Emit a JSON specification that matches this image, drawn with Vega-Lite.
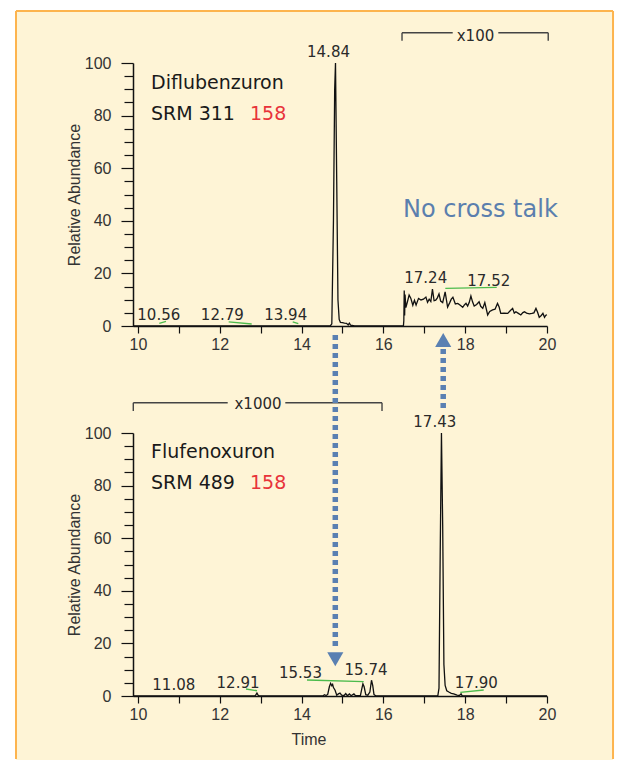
{
  "$schema": "https://vega.github.io/schema/vega-lite/v6.json",
  "background": "white",
  "padding": {"left": 14, "top": 10, "right": 0, "bottom": 0},
  "bounds": "flush",
  "spacing": 107,
  "config": {
    "view": {"stroke": null},
    "axis": {
      "grid": false,
      "domainColor": "#111111",
      "domainWidth": 1.5,
      "tickColor": "#111111",
      "tickWidth": 1.2,
      "labelFont": "Liberation Sans",
      "labelFontSize": 16,
      "labelColor": "#333333",
      "titleFont": "Liberation Sans",
      "titleFontSize": 16,
      "titleFontWeight": "normal",
      "titleColor": "#333333",
      "labelOverlap": false,
      "labelFlush": false
    }
  },
  "datasets": {
    "top": [
      {"t": 9.88, "a": 0}, {"t": 14.70, "a": 0}, {"t": 14.74, "a": 0.8}, {"t": 14.78, "a": 40}, {"t": 14.81, "a": 90}, {"t": 14.83, "a": 100}, {"t": 14.86, "a": 55}, {"t": 14.89, "a": 10}, {"t": 14.92, "a": 2.5}, {"t": 14.95, "a": 1.4}, {"t": 15.00, "a": 1.3}, {"t": 15.05, "a": 1.1}, {"t": 15.10, "a": 1.0}, {"t": 15.14, "a": 0.4}, {"t": 15.17, "a": 1.1}, {"t": 15.20, "a": 0.3}, {"t": 15.30, "a": 0},
      {"t": 16.49, "a": 0}, {"t": 16.50, "a": 2}, {"t": 16.51, "a": 13.5}, {"t": 16.52, "a": 4}, {"t": 16.53, "a": 12}, {"t": 16.55, "a": 7}, {"t": 16.59, "a": 9.3}, {"t": 16.63, "a": 11.8}, {"t": 16.67, "a": 10.6}, {"t": 16.72, "a": 7.9}, {"t": 16.76, "a": 9.8}, {"t": 16.80, "a": 8}, {"t": 16.86, "a": 10.5}, {"t": 16.92, "a": 9.9}, {"t": 16.98, "a": 10.2}, {"t": 17.04, "a": 11}, {"t": 17.08, "a": 9}, {"t": 17.12, "a": 10.2}, {"t": 17.16, "a": 9.3}, {"t": 17.20, "a": 14}, {"t": 17.24, "a": 9.6}, {"t": 17.28, "a": 9.8}, {"t": 17.32, "a": 10.7}, {"t": 17.36, "a": 12.2}, {"t": 17.40, "a": 9.5}, {"t": 17.45, "a": 8.9}, {"t": 17.51, "a": 13}, {"t": 17.57, "a": 7.2}, {"t": 17.62, "a": 8.8}, {"t": 17.66, "a": 10.2}, {"t": 17.70, "a": 10.9}, {"t": 17.76, "a": 8.4}, {"t": 17.82, "a": 8.6}, {"t": 17.88, "a": 7.9}, {"t": 17.94, "a": 7.1}, {"t": 17.98, "a": 8.0}, {"t": 18.02, "a": 8.6}, {"t": 18.06, "a": 7.6}, {"t": 18.10, "a": 9.0}, {"t": 18.14, "a": 11.4}, {"t": 18.18, "a": 9.2}, {"t": 18.22, "a": 7.6}, {"t": 18.28, "a": 8.2}, {"t": 18.34, "a": 9.2}, {"t": 18.38, "a": 7.5}, {"t": 18.43, "a": 6.7}, {"t": 18.48, "a": 8.9}, {"t": 18.55, "a": 4.2}, {"t": 18.60, "a": 5.5}, {"t": 18.67, "a": 6.1}, {"t": 18.73, "a": 6.4}, {"t": 18.79, "a": 8.6}, {"t": 18.83, "a": 7.2}, {"t": 18.87, "a": 4.8}, {"t": 18.95, "a": 4.9}, {"t": 19.04, "a": 4.8}, {"t": 19.10, "a": 5.8}, {"t": 19.16, "a": 6.7}, {"t": 19.20, "a": 4.9}, {"t": 19.24, "a": 5.4}, {"t": 19.30, "a": 4.8}, {"t": 19.36, "a": 4.2}, {"t": 19.41, "a": 5.1}, {"t": 19.45, "a": 5.4}, {"t": 19.50, "a": 4.9}, {"t": 19.57, "a": 4.6}, {"t": 19.63, "a": 4.8}, {"t": 19.68, "a": 5.0}, {"t": 19.73, "a": 6.7}, {"t": 19.77, "a": 5.2}, {"t": 19.81, "a": 3.3}, {"t": 19.86, "a": 4.0}, {"t": 19.90, "a": 4.8}, {"t": 19.94, "a": 3.3}, {"t": 19.97, "a": 4.1}, {"t": 20.0, "a": 4.2}
    ],
    "bot": [
      {"t": 9.88, "a": 0}, {"t": 12.86, "a": 0}, {"t": 12.89, "a": 0.6}, {"t": 12.91, "a": 1.1}, {"t": 12.94, "a": 0.3}, {"t": 12.97, "a": 0},
      {"t": 14.52, "a": 0}, {"t": 14.56, "a": 0.5}, {"t": 14.60, "a": 0.2}, {"t": 14.64, "a": 0.6}, {"t": 14.68, "a": 3.5}, {"t": 14.71, "a": 4.8}, {"t": 14.74, "a": 3.9}, {"t": 14.76, "a": 4.4}, {"t": 14.78, "a": 3.2}, {"t": 14.82, "a": 2.2}, {"t": 14.86, "a": 0.3}, {"t": 14.90, "a": 0.8}, {"t": 14.94, "a": 1.1}, {"t": 14.98, "a": 0.3}, {"t": 15.04, "a": 0.2}, {"t": 15.08, "a": 0.9}, {"t": 15.12, "a": 0.1}, {"t": 15.17, "a": 0.8}, {"t": 15.21, "a": 0.1}, {"t": 15.28, "a": 0.8}, {"t": 15.32, "a": 0.1}, {"t": 15.44, "a": 0.2}, {"t": 15.47, "a": 2.5}, {"t": 15.50, "a": 4.6}, {"t": 15.53, "a": 3.5}, {"t": 15.57, "a": 0.5}, {"t": 15.62, "a": 0.3}, {"t": 15.67, "a": 1.5}, {"t": 15.71, "a": 6.0}, {"t": 15.74, "a": 4.0}, {"t": 15.77, "a": 0.6}, {"t": 15.82, "a": 0},
      {"t": 17.33, "a": 0}, {"t": 17.36, "a": 3}, {"t": 17.39, "a": 55}, {"t": 17.42, "a": 100}, {"t": 17.45, "a": 65}, {"t": 17.48, "a": 12}, {"t": 17.51, "a": 4}, {"t": 17.55, "a": 2}, {"t": 17.60, "a": 1.5}, {"t": 17.66, "a": 1.0}, {"t": 17.72, "a": 0.8}, {"t": 17.80, "a": 0.3}, {"t": 17.86, "a": 0.2}, {"t": 17.90, "a": 0.8}, {"t": 17.93, "a": 0}, {"t": 20.0, "a": 0}
    ],
    "greenTop": [
      {"t": 10.523, "a": 1.0, "t2": 10.687, "a2": 1.8},
      {"t": 12.219, "a": 1.6, "t2": 12.782, "a2": 0.76},
      {"t": 13.784, "a": 1.6, "t2": 13.921, "a2": 0.87},
      {"t": 17.514, "a": 14.3, "t2": 18.771, "a2": 14.7}
    ],
    "greenBot": [
      {"t": 12.642, "a": 2.66, "t2": 12.911, "a2": 2.0},
      {"t": 14.133, "a": 6.08, "t2": 15.519, "a2": 5.44},
      {"t": 17.881, "a": 1.41, "t2": 18.453, "a2": 2.28}
    ],
    "bracketTop": [
      {"t": 16.456, "a": 108.5, "t2": 16.456, "a2": 111.5},
      {"t": 16.456, "a": 111.5, "t2": 17.695, "a2": 111.5},
      {"t": 18.81, "a": 111.5, "t2": 20.03, "a2": 111.5},
      {"t": 20.03, "a": 111.5, "t2": 20.03, "a2": 108.5}
    ],
    "bracketBot": [
      {"t": 9.887, "a": 108.4, "t2": 9.887, "a2": 111.5},
      {"t": 9.887, "a": 111.5, "t2": 12.195, "a2": 111.5},
      {"t": 13.603, "a": 111.5, "t2": 15.967, "a2": 111.5},
      {"t": 15.967, "a": 111.5, "t2": 15.967, "a2": 108.4}
    ],
    "labTop": [
      {"t": 14.659, "a": 102.1, "label": "14.84"},
      {"t": 10.51, "a": 2.28, "label": "10.56"},
      {"t": 12.063, "a": 2.28, "label": "12.79"},
      {"t": 13.613, "a": 2.28, "label": "13.94"},
      {"t": 17.035, "a": 16.5, "label": "17.24"},
      {"t": 18.577, "a": 15.2, "label": "17.52"},
      {"t": 18.252, "a": 108.5, "label": "x100"}
    ],
    "labBot": [
      {"t": 17.257, "a": 102.2, "label": "17.43"},
      {"t": 10.877, "a": 2.3, "label": "11.08"},
      {"t": 12.447, "a": 2.9, "label": "12.91"},
      {"t": 13.974, "a": 6.7, "label": "15.53"},
      {"t": 15.576, "a": 8.0, "label": "15.74"},
      {"t": 18.272, "a": 2.9, "label": "17.90"},
      {"t": 12.936, "a": 109.0, "label": "x1000"}
    ],
    "nameTop": [
      {"t": 10.32, "a": 90.1, "label": "Diflubenzuron"},
      {"t": 10.32, "a": 78.3, "label": "SRM 311"}
    ],
    "nameBot": [
      {"t": 10.32, "a": 90.4, "label": "Flufenoxuron"},
      {"t": 10.32, "a": 78.7, "label": "SRM 489"}
    ],
    "mzTop": [{"t": 12.74, "a": 78.3, "label": "158"}],
    "mzBot": [{"t": 12.74, "a": 78.7, "label": "158"}],
    "note": [{"t": 16.48, "a": 41.3, "label": "No cross talk"}],
    "shafts": [
      {"t": 14.825, "a": 137.3, "a2": 17.5},
      {"t": 17.463, "a": 131.9, "a2": 108.4}
    ],
    "heads": [
      {"t": 14.825, "a": 14.0, "dir": "down"},
      {"t": 17.463, "a": 135.4, "dir": "up"}
    ]
  },
  "vconcat": [
    {
      "width": 414,
      "height": 263,
      "layer": [
        {
          "data": {"values": [{}]},
          "mark": {"type": "rect", "fill": "#fef4d6"},
          "encoding": {
            "x": {"datum": 7.02, "type": "quantitative", "title": null},
            "x2": {"datum": 21.614},
            "y": {"datum": 119.77, "type": "quantitative", "title": "Relative Abundance"},
            "y2": {"datum": -165.0}
          }
        },
        {
          "data": {"values": [{}]},
          "mark": {"type": "rule", "stroke": "#fdb44e", "strokeWidth": 2},
          "encoding": {
            "x": {"datum": 7.02, "type": "quantitative", "title": null},
            "y": {"datum": 119.77, "type": "quantitative", "title": "Relative Abundance"},
            "y2": {"datum": -164.6}
          }
        },
        {
          "data": {"values": [{}]},
          "mark": {"type": "rule", "stroke": "#fdb44e", "strokeWidth": 2},
          "encoding": {
            "x": {"datum": 21.614, "type": "quantitative", "title": null},
            "y": {"datum": 119.77, "type": "quantitative", "title": "Relative Abundance"},
            "y2": {"datum": -164.6}
          }
        },
        {
          "data": {"values": [{}]},
          "mark": {"type": "rule", "stroke": "#fdb44e", "strokeWidth": 2},
          "encoding": {
            "x": {"datum": 7.02, "type": "quantitative", "title": null},
            "x2": {"datum": 21.614},
            "y": {"datum": 119.77, "type": "quantitative", "title": "Relative Abundance"}
          }
        },
        {
          "data": {"name": "top"},
          "mark": {"type": "line", "color": "#111111", "strokeWidth": 1.3},
          "encoding": {
            "x": {
              "field": "t", "type": "quantitative", "title": null,
              "scale": {"domain": [9.88, 20], "nice": false, "zero": false},
              "axis": {
                "zindex": 1,
                "tickCount": 100,
                "format": "d",
                "values": [10, 10.5, 11, 11.5, 12, 12.5, 13, 13.5, 14, 14.5, 15, 15.5, 16, 16.5, 17, 17.5, 18, 18.5, 19, 19.5, 20],
                "labelExpr": "datum.value % 2 === 0 ? datum.label : ''",
                "tickSize": 7,
                "labelPadding": 3
              }
            },
            "y": {
              "field": "a", "type": "quantitative", "title": "Relative Abundance",
              "scale": {"domain": [0, 100], "nice": false},
              "axis": {
                "zindex": 1,
                "tickCount": 100,
                "format": "d",
                "values": [0, 5, 10, 15, 20, 25, 30, 35, 40, 45, 50, 55, 60, 65, 70, 75, 80, 85, 90, 95, 100],
                "labelExpr": "datum.value % 20 === 0 ? datum.label : ''",
                "tickSize": {"condition": {"test": "datum.value % 20 === 0", "value": 12}, "value": 9},
                "labelPadding": 10,
                "titlePadding": 2
              }
            }
          }
        },
        {
          "data": {"name": "greenTop"},
          "mark": {"type": "rule", "color": "#4cbb4c", "strokeWidth": 1.3},
          "encoding": {
            "x": {"field": "t", "type": "quantitative", "title": null},
            "x2": {"field": "t2"},
            "y": {"field": "a", "type": "quantitative", "title": "Relative Abundance"},
            "y2": {"field": "a2"}
          }
        },
        {
          "data": {"name": "bracketTop"},
          "mark": {"type": "rule", "color": "#444444", "strokeWidth": 1.4},
          "encoding": {
            "x": {"field": "t", "type": "quantitative", "title": null},
            "x2": {"field": "t2"},
            "y": {"field": "a", "type": "quantitative", "title": "Relative Abundance"},
            "y2": {"field": "a2"}
          }
        },
        {
          "data": {"name": "labTop"},
          "mark": {"type": "text", "font": "DejaVu Sans", "fontSize": 15, "color": "#2a2a2a", "align": "center", "baseline": "alphabetic"},
          "encoding": {
            "x": {"field": "t", "type": "quantitative", "title": null},
            "y": {"field": "a", "type": "quantitative", "title": "Relative Abundance"},
            "text": {"field": "label"}
          }
        },
        {
          "data": {"name": "nameTop"},
          "mark": {"type": "text", "font": "DejaVu Sans", "fontSize": 19, "color": "#1a1a1a", "align": "left", "baseline": "alphabetic"},
          "encoding": {
            "x": {"field": "t", "type": "quantitative", "title": null},
            "y": {"field": "a", "type": "quantitative", "title": "Relative Abundance"},
            "text": {"field": "label"}
          }
        },
        {
          "data": {"name": "mzTop"},
          "mark": {"type": "text", "font": "DejaVu Sans", "fontSize": 19, "color": "#e8333a", "align": "left", "baseline": "alphabetic"},
          "encoding": {
            "x": {"field": "t", "type": "quantitative", "title": null},
            "y": {"field": "a", "type": "quantitative", "title": "Relative Abundance"},
            "text": {"field": "label"}
          }
        },
        {
          "data": {"name": "note"},
          "mark": {"type": "text", "font": "DejaVu Sans", "fontSize": 24, "color": "#5b7fae", "align": "left", "baseline": "alphabetic"},
          "encoding": {
            "x": {"field": "t", "type": "quantitative", "title": null},
            "y": {"field": "a", "type": "quantitative", "title": "Relative Abundance"},
            "text": {"field": "label"}
          }
        }
      ]
    },
    {
      "width": 414,
      "height": 263,
      "layer": [
        {
          "data": {"name": "bot"},
          "mark": {"type": "line", "color": "#111111", "strokeWidth": 1.3},
          "encoding": {
            "x": {
              "field": "t", "type": "quantitative", "title": "Time",
              "scale": {"domain": [9.88, 20], "nice": false, "zero": false},
              "axis": {
                "zindex": 1,
                "tickCount": 100,
                "format": "d",
                "values": [10, 10.5, 11, 11.5, 12, 12.5, 13, 13.5, 14, 14.5, 15, 15.5, 16, 16.5, 17, 17.5, 18, 18.5, 19, 19.5, 20],
                "labelExpr": "datum.value % 2 === 0 ? datum.label : ''",
                "tickSize": 7,
                "labelPadding": 3,
                "titleX": 175.5,
                "titleY": 48,
                "titleBaseline": "alphabetic"
              }
            },
            "y": {
              "field": "a", "type": "quantitative", "title": "Relative Abundance",
              "scale": {"domain": [0, 100], "nice": false},
              "axis": {
                "zindex": 1,
                "tickCount": 100,
                "format": "d",
                "values": [0, 5, 10, 15, 20, 25, 30, 35, 40, 45, 50, 55, 60, 65, 70, 75, 80, 85, 90, 95, 100],
                "labelExpr": "datum.value % 20 === 0 ? datum.label : ''",
                "tickSize": {"condition": {"test": "datum.value % 20 === 0", "value": 12}, "value": 9},
                "labelPadding": 10,
                "titlePadding": 2
              }
            }
          }
        },
        {
          "data": {"name": "greenBot"},
          "mark": {"type": "rule", "color": "#4cbb4c", "strokeWidth": 1.3},
          "encoding": {
            "x": {"field": "t", "type": "quantitative", "title": "Time"},
            "x2": {"field": "t2"},
            "y": {"field": "a", "type": "quantitative", "title": "Relative Abundance"},
            "y2": {"field": "a2"}
          }
        },
        {
          "data": {"name": "bracketBot"},
          "mark": {"type": "rule", "color": "#444444", "strokeWidth": 1.4},
          "encoding": {
            "x": {"field": "t", "type": "quantitative", "title": "Time"},
            "x2": {"field": "t2"},
            "y": {"field": "a", "type": "quantitative", "title": "Relative Abundance"},
            "y2": {"field": "a2"}
          }
        },
        {
          "data": {"name": "labBot"},
          "mark": {"type": "text", "font": "DejaVu Sans", "fontSize": 15, "color": "#2a2a2a", "align": "center", "baseline": "alphabetic"},
          "encoding": {
            "x": {"field": "t", "type": "quantitative", "title": "Time"},
            "y": {"field": "a", "type": "quantitative", "title": "Relative Abundance"},
            "text": {"field": "label"}
          }
        },
        {
          "data": {"name": "nameBot"},
          "mark": {"type": "text", "font": "DejaVu Sans", "fontSize": 19, "color": "#1a1a1a", "align": "left", "baseline": "alphabetic"},
          "encoding": {
            "x": {"field": "t", "type": "quantitative", "title": "Time"},
            "y": {"field": "a", "type": "quantitative", "title": "Relative Abundance"},
            "text": {"field": "label"}
          }
        },
        {
          "data": {"name": "mzBot"},
          "mark": {"type": "text", "font": "DejaVu Sans", "fontSize": 19, "color": "#e8333a", "align": "left", "baseline": "alphabetic"},
          "encoding": {
            "x": {"field": "t", "type": "quantitative", "title": "Time"},
            "y": {"field": "a", "type": "quantitative", "title": "Relative Abundance"},
            "text": {"field": "label"}
          }
        },
        {
          "data": {"name": "shafts"},
          "mark": {"type": "rule", "color": "#5a80b2", "strokeWidth": 5.5, "strokeDash": [5, 4]},
          "encoding": {
            "x": {"field": "t", "type": "quantitative", "title": "Time"},
            "y": {"field": "a", "type": "quantitative", "title": "Relative Abundance"},
            "y2": {"field": "a2"}
          }
        },
        {
          "data": {"name": "heads"},
          "mark": {"type": "point", "filled": true, "color": "#5a80b2", "opacity": 1, "size": 260},
          "encoding": {
            "x": {"field": "t", "type": "quantitative", "title": "Time"},
            "y": {"field": "a", "type": "quantitative", "title": "Relative Abundance"},
            "shape": {"field": "dir", "type": "nominal", "scale": {"domain": ["down", "up"], "range": ["triangle-down", "triangle-up"]}, "legend": null}
          }
        }
      ]
    }
  ]
}
